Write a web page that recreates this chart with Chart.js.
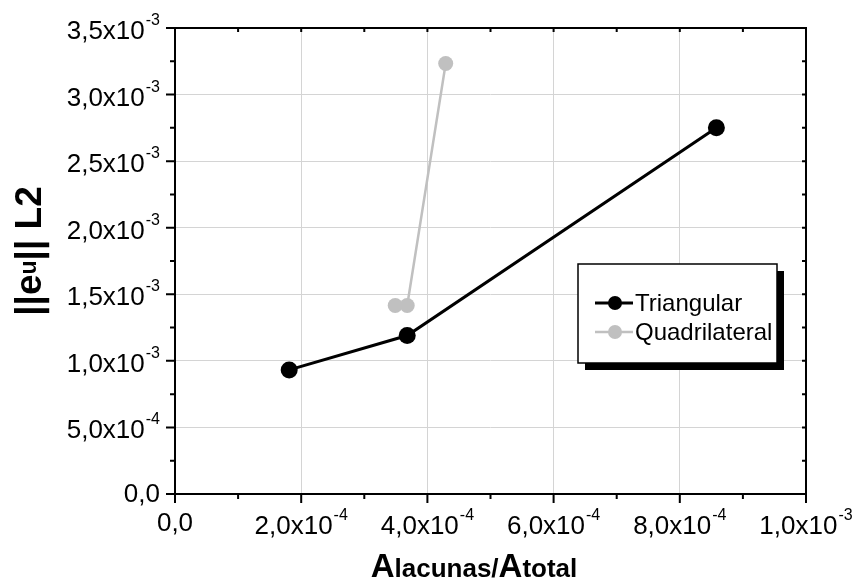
<!DOCTYPE html>
<html>
<head>
<meta charset="utf-8">
<script src="https://cdn.jsdelivr.net/npm/chart.js@4.4.1/dist/chart.umd.min.js"></script>
<style>
  html, body { margin: 0; padding: 0; background: #fff; }
  #wrap { width: 855px; height: 580px; position: relative; }
</style>
</head>
<body>
<div id="wrap"><canvas id="chart"></canvas></div>
<script>
// values
const seriesNames = ["Triangular", "Quadrilateral"];
const triX = [1.81e-4, 3.68e-4, 8.58e-4];
const triY = [0.932e-3, 1.19e-3, 2.75e-3];
const quadX = [3.49e-4, 3.68e-4, 4.29e-4];
const quadY = [1.416e-3, 1.416e-3, 3.233e-3];

const xTickValues = [0, 2e-4, 4e-4, 6e-4, 8e-4, 1e-3];
const xTickLabels = ["0,0", "2,0x10^-4", "4,0x10^-4", "6,0x10^-4", "8,0x10^-4", "1,0x10^-3"];
const yTickValues = [0, 5e-4, 1e-3, 1.5e-3, 2e-3, 2.5e-3, 3e-3, 3.5e-3];
const yTickLabels = ["0,0", "5,0x10^-4", "1,0x10^-3", "1,5x10^-3", "2,0x10^-3", "2,5x10^-3", "3,0x10^-3", "3,5x10^-3"];

const FONT = '"Liberation Sans", Arial, sans-serif';

function toPoints(xs, ys) {
  return xs.map((x, i) => ({ x, y: ys[i] }));
}

function midpoints(vals) {
  const out = [];
  for (let i = 0; i < vals.length - 1; i++) out.push((vals[i] + vals[i + 1]) / 2);
  return out;
}

// label like "2,0x10^-4" -> base text with a superscript exponent
function drawSupLabel(ctx, label, x, y, align) {
  const [base, sup] = label.split("^");
  ctx.font = "26px " + FONT;
  const wb = ctx.measureText(base).width;
  ctx.font = "16px " + FONT;
  const ws = sup ? ctx.measureText(sup).width + 1 : 0;
  const total = wb + ws;
  let left = x;
  if (align === "center") left = x - total / 2;
  if (align === "right") left = x - total;
  ctx.textAlign = "left";
  ctx.textBaseline = "alphabetic";
  ctx.font = "26px " + FONT;
  ctx.fillText(base, left, y);
  if (sup) {
    ctx.font = "16px " + FONT;
    ctx.fillText(sup, left + wb + 1, y - 14);
  }
}

function drawParts(ctx, parts, cx, y) {
  let total = 0;
  parts.forEach(p => { ctx.font = p.font; p.w = ctx.measureText(p.text).width; total += p.w; });
  let xx = cx - total / 2;
  ctx.textAlign = "left";
  ctx.textBaseline = "alphabetic";
  parts.forEach(p => {
    ctx.font = p.font;
    ctx.fillText(p.text, xx, y - (p.rise || 0));
    xx += p.w;
  });
}

const framePlugin = {
  id: "origin",
  afterDraw(chart) {
    const { ctx, chartArea: a, scales } = chart;
    const xs = scales.x, ys = scales.y;
    ctx.save();
    ctx.strokeStyle = "#000";
    ctx.fillStyle = "#000";

    // frame
    ctx.lineWidth = 2;
    ctx.strokeRect(a.left, a.top, a.right - a.left, a.bottom - a.top);

    // ticks
    ctx.lineWidth = 2;
    ctx.beginPath();
    xTickValues.forEach(v => {
      const px = xs.getPixelForValue(v);
      ctx.moveTo(px, a.bottom); ctx.lineTo(px, a.bottom + 9);
      ctx.moveTo(px, a.top); ctx.lineTo(px, a.top + 4);
    });
    midpoints(xTickValues).forEach(v => {
      const px = xs.getPixelForValue(v);
      ctx.moveTo(px, a.bottom); ctx.lineTo(px, a.bottom + 5);
      ctx.moveTo(px, a.top); ctx.lineTo(px, a.top + 4);
    });
    yTickValues.forEach(v => {
      const py = ys.getPixelForValue(v);
      ctx.moveTo(a.left, py); ctx.lineTo(a.left - 9, py);
      ctx.moveTo(a.right, py); ctx.lineTo(a.right - 4, py);
    });
    midpoints(yTickValues).forEach(v => {
      const py = ys.getPixelForValue(v);
      ctx.moveTo(a.left, py); ctx.lineTo(a.left - 5, py);
      ctx.moveTo(a.right, py); ctx.lineTo(a.right - 4, py);
    });
    ctx.stroke();

    // tick labels
    xTickValues.forEach((v, i) => {
      const px = xs.getPixelForValue(v);
      const lab = xTickLabels[i];
      drawSupLabel(ctx, lab, px, a.bottom + (lab.includes("^") ? 40 : 37), "center");
    });
    yTickValues.forEach((v, i) => {
      const py = ys.getPixelForValue(v);
      const lab = yTickLabels[i];
      drawSupLabel(ctx, lab, a.left - 15, py + (lab.includes("^") ? 11 : 8), "right");
    });

    // axis titles
    const big = "bold 33px " + FONT, small = "bold 26px " + FONT;
    drawParts(ctx, [
      { text: "A", font: big }, { text: "lacunas/", font: small },
      { text: "A", font: big }, { text: "total", font: small }
    ], 474, 577);

    ctx.save();
    ctx.translate(41, 251);
    ctx.rotate(-Math.PI / 2);
    drawParts(ctx, [
      { text: "||e", font: "bold 37px " + FONT },
      { text: "u", font: "bold 23px " + FONT, rise: 5 },
      { text: "|| L2", font: "bold 37px " + FONT }
    ], 0, 0);
    ctx.restore();

    // legend box with shadow
    const lx = a.left + 403, ly = a.top + 236, lw = 199, lh = 99;
    ctx.fillStyle = "#000";
    ctx.fillRect(lx + 7, ly + 7, lw, lh);
    ctx.fillStyle = "#fff";
    ctx.fillRect(lx, ly, lw, lh);
    ctx.lineWidth = 1.5;
    ctx.strokeStyle = "#000";
    ctx.strokeRect(lx, ly, lw, lh);

    chart.data.datasets.forEach((ds, i) => {
      const yy = ly + 39 + i * 29;
      ctx.strokeStyle = ds.borderColor;
      ctx.lineWidth = ds.borderWidth;
      ctx.beginPath();
      ctx.moveTo(lx + 17, yy); ctx.lineTo(lx + 55, yy);
      ctx.stroke();
      ctx.fillStyle = ds.pointBackgroundColor;
      ctx.beginPath();
      ctx.arc(lx + 37, yy, 7, 0, Math.PI * 2);
      ctx.fill();
      ctx.fillStyle = "#000";
      ctx.font = "24px " + FONT;
      ctx.textAlign = "left";
      ctx.textBaseline = "middle";
      ctx.fillText(ds.label, lx + 57, yy + 1);
    });

    ctx.restore();
  }
};

new Chart(document.getElementById("chart"), {
  type: "scatter",
  data: {
    datasets: [
      {
        label: seriesNames[0],
        data: toPoints(triX, triY),
        showLine: true,
        borderColor: "#000",
        borderWidth: 3,
        pointBackgroundColor: "#000",
        pointBorderWidth: 0,
        pointRadius: 8.5,
        order: 1
      },
      {
        label: seriesNames[1],
        data: toPoints(quadX, quadY),
        showLine: true,
        borderColor: "#c0c0c0",
        borderWidth: 2.5,
        pointBackgroundColor: "#c0c0c0",
        pointBorderWidth: 0,
        pointRadius: 7.5,
        order: 2
      }
    ]
  },
  options: {
    responsive: true,
    maintainAspectRatio: false,
    animation: false,
    layout: { padding: { top: 28, right: 49, left: 0, bottom: 0 } },
    plugins: { legend: { display: false }, tooltip: { enabled: false } },
    scales: {
      x: {
        type: "linear",
        min: 0, max: 1e-3,
        afterBuildTicks: s => { s.ticks = xTickValues.map(v => ({ value: v })); },
        afterFit: s => { s.height = 86; },
        ticks: { display: false },
        border: { display: false },
        grid: { color: "#d4d4d4", lineWidth: 1, drawTicks: false }
      },
      y: {
        type: "linear",
        min: 0, max: 3.5e-3,
        afterBuildTicks: s => { s.ticks = yTickValues.map(v => ({ value: v })); },
        afterFit: s => { s.width = 175; },
        ticks: { display: false },
        border: { display: false },
        grid: { color: "#d4d4d4", lineWidth: 1, drawTicks: false }
      }
    }
  },
  plugins: [framePlugin]
});
</script>
</body>
</html>
